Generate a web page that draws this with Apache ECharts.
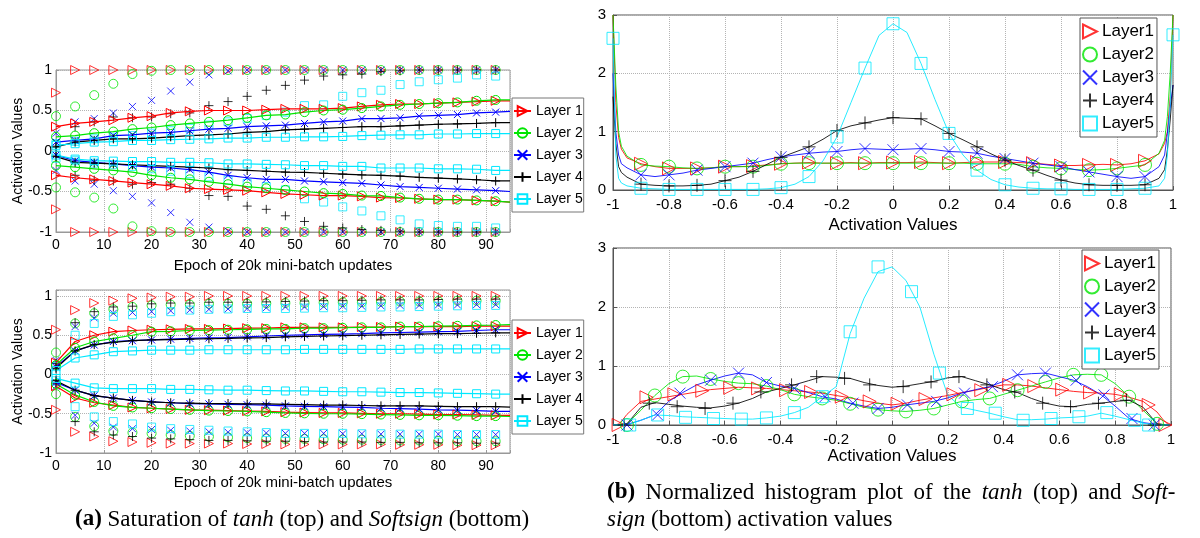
<!DOCTYPE html>
<html>
<head>
<meta charset="utf-8">
<script src="https://cdn.jsdelivr.net/npm/echarts@6/dist/echarts.min.js"></script>
<style>
  html, body { margin: 0; padding: 0; background: #fff; }
  #chart { width: 1200px; height: 538px; }
</style>
</head>
<body>
<div id="chart"></div>
<script>
// ---- (a) saturation plots: x = epoch of 20k mini-batch updates ----
const epochs = [0, 4, 8, 12, 16, 20, 24, 28, 32, 36, 40, 44, 48, 52, 56, 60, 64, 68, 72, 76, 80, 84, 88, 92];
const lineEnd = 95;
const lineEpochs = epochs.concat([lineEnd]);

// tanh, std lines (upper / lower), one value per lineEpochs
const tanhUp1 = [0.30,0.34,0.36,0.38,0.41,0.43,0.47,0.49,0.50,0.50,0.50,0.51,0.52,0.52,0.52,0.53,0.55,0.57,0.58,0.58,0.59,0.60,0.61,0.62,0.62];
const tanhUp2 = [0.175,0.19,0.22,0.24,0.27,0.29,0.32,0.34,0.36,0.38,0.41,0.44,0.45,0.48,0.50,0.51,0.53,0.55,0.57,0.58,0.59,0.60,0.62,0.63,0.63];
const tanhUp3 = [0.11,0.13,0.15,0.19,0.20,0.22,0.23,0.25,0.27,0.28,0.30,0.31,0.32,0.34,0.36,0.37,0.40,0.40,0.41,0.43,0.44,0.45,0.47,0.48,0.49];
const tanhUp4 = [0.05,0.11,0.13,0.15,0.15,0.16,0.175,0.19,0.20,0.21,0.23,0.24,0.26,0.27,0.28,0.29,0.30,0.30,0.31,0.32,0.33,0.335,0.34,0.35,0.35];
const tanhUp5 = [0.07,0.09,0.11,0.115,0.13,0.13,0.14,0.145,0.15,0.16,0.16,0.17,0.17,0.175,0.175,0.18,0.19,0.195,0.20,0.20,0.21,0.21,0.215,0.215,0.215];
const tanhLow1 = [-0.30,-0.33,-0.35,-0.37,-0.39,-0.41,-0.43,-0.46,-0.47,-0.48,-0.49,-0.51,-0.53,-0.54,-0.55,-0.55,-0.56,-0.575,-0.58,-0.59,-0.60,-0.60,-0.61,-0.62,-0.63];
const tanhLow2 = [-0.18,-0.20,-0.22,-0.24,-0.26,-0.30,-0.33,-0.35,-0.38,-0.41,-0.44,-0.46,-0.48,-0.50,-0.52,-0.53,-0.55,-0.555,-0.575,-0.59,-0.60,-0.60,-0.61,-0.62,-0.63];
const tanhLow3 = [-0.05,-0.12,-0.14,-0.16,-0.18,-0.20,-0.21,-0.23,-0.26,-0.30,-0.33,-0.35,-0.35,-0.37,-0.38,-0.39,-0.40,-0.42,-0.44,-0.45,-0.46,-0.47,-0.48,-0.49,-0.50];
const tanhLow4 = [-0.07,-0.14,-0.15,-0.16,-0.17,-0.18,-0.19,-0.20,-0.21,-0.23,-0.24,-0.25,-0.26,-0.265,-0.275,-0.285,-0.295,-0.30,-0.31,-0.325,-0.335,-0.345,-0.355,-0.37,-0.37];
const tanhLow5 = [-0.05,-0.10,-0.12,-0.125,-0.13,-0.13,-0.14,-0.14,-0.145,-0.16,-0.16,-0.165,-0.17,-0.18,-0.18,-0.19,-0.19,-0.21,-0.21,-0.21,-0.22,-0.22,-0.225,-0.24,-0.24];

// tanh, 98 percentiles (markers alone), one value per epoch
const tanhTop1 = [0.72,1,1,1,1,1,1,1,1,1,1,1,1,1,1,1,1,1,1,1,1,1,1,1];
const tanhTop2 = [0.43,0.55,0.69,0.83,0.95,0.99,1,1,1,1,1,1,1,1,1,1,1,1,1,1,1,1,1,1];
const tanhTop3 = [0.22,0.36,0.40,0.47,0.55,0.625,0.74,0.85,0.94,0.99,1,1,1,1,1,1,1,1,1,1,1,1,1,1];
const tanhTop4 = [0.06,0.30,0.36,0.42,0.41,0.42,0.46,0.47,0.56,0.61,0.675,0.75,0.81,0.875,0.925,0.94,0.95,0.98,0.99,1,1,1,1,1];
const tanhTop5 = [0.09,0.12,0.15,0.17,0.19,0.22,0.25,0.28,0.32,0.36,0.40,0.44,0.48,0.56,0.57,0.675,0.72,0.75,0.82,0.855,0.88,0.90,0.94,0.925];
const tanhBot1 = [-0.72,-1,-1,-1,-1,-1,-1,-1,-1,-1,-1,-1,-1,-1,-1,-1,-1,-1,-1,-1,-1,-1,-1,-1];
const tanhBot2 = [-0.45,-0.51,-0.575,-0.71,-0.93,-0.99,-1,-1,-1,-1,-1,-1,-1,-1,-1,-1,-1,-1,-1,-1,-1,-1,-1,-1];
const tanhBot3 = [-0.24,-0.37,-0.41,-0.49,-0.56,-0.64,-0.76,-0.88,-0.94,-0.99,-1,-1,-1,-1,-1,-1,-1,-1,-1,-1,-1,-1,-1,-1];
const tanhBot4 = [-0.06,-0.30,-0.36,-0.37,-0.41,-0.39,-0.41,-0.46,-0.55,-0.56,-0.68,-0.72,-0.80,-0.87,-0.93,-0.95,-0.97,-0.98,-0.99,-1,-1,-1,-1,-1];
const tanhBot5 = [-0.09,-0.12,-0.15,-0.17,-0.19,-0.22,-0.25,-0.28,-0.32,-0.36,-0.40,-0.44,-0.48,-0.59,-0.63,-0.69,-0.74,-0.80,-0.85,-0.90,-0.92,-0.93,-0.93,-0.95];

// softsign, std lines
const softUp1 = [0.15,0.42,0.50,0.545,0.56,0.57,0.575,0.58,0.58,0.585,0.59,0.59,0.60,0.60,0.60,0.60,0.605,0.605,0.61,0.61,0.61,0.61,0.615,0.615,0.615];
const softUp2 = [0.12,0.34,0.42,0.46,0.50,0.545,0.55,0.56,0.565,0.57,0.575,0.58,0.58,0.59,0.59,0.595,0.60,0.60,0.61,0.61,0.615,0.62,0.625,0.63,0.635];
const softUp3 = [0.10,0.30,0.375,0.42,0.43,0.44,0.45,0.46,0.465,0.47,0.48,0.49,0.50,0.505,0.51,0.515,0.52,0.53,0.535,0.54,0.545,0.55,0.56,0.57,0.57];
const softUp4 = [0.08,0.30,0.38,0.41,0.43,0.44,0.445,0.45,0.455,0.46,0.465,0.47,0.48,0.485,0.49,0.495,0.50,0.505,0.51,0.515,0.52,0.52,0.525,0.53,0.53];
const softUp5 = [0.05,0.21,0.25,0.29,0.30,0.31,0.31,0.31,0.315,0.315,0.315,0.315,0.315,0.32,0.32,0.32,0.32,0.32,0.32,0.325,0.325,0.325,0.325,0.325,0.325];
const softLow1 = [-0.15,-0.30,-0.36,-0.39,-0.42,-0.43,-0.44,-0.45,-0.455,-0.46,-0.465,-0.47,-0.48,-0.485,-0.49,-0.49,-0.495,-0.50,-0.50,-0.505,-0.51,-0.51,-0.515,-0.52,-0.52];
const softLow2 = [-0.12,-0.26,-0.35,-0.40,-0.42,-0.43,-0.44,-0.45,-0.46,-0.465,-0.47,-0.48,-0.49,-0.495,-0.50,-0.50,-0.505,-0.51,-0.515,-0.52,-0.52,-0.525,-0.53,-0.53,-0.535];
const softLow3 = [-0.10,-0.20,-0.27,-0.30,-0.33,-0.35,-0.36,-0.37,-0.375,-0.38,-0.385,-0.39,-0.40,-0.405,-0.41,-0.415,-0.42,-0.43,-0.435,-0.44,-0.45,-0.455,-0.46,-0.47,-0.47];
const softLow4 = [-0.08,-0.20,-0.27,-0.30,-0.33,-0.35,-0.36,-0.365,-0.37,-0.37,-0.375,-0.375,-0.38,-0.385,-0.39,-0.39,-0.395,-0.40,-0.40,-0.40,-0.405,-0.41,-0.41,-0.41,-0.415];
const softLow5 = [-0.05,-0.11,-0.17,-0.18,-0.18,-0.18,-0.19,-0.19,-0.195,-0.20,-0.20,-0.205,-0.21,-0.21,-0.215,-0.22,-0.22,-0.225,-0.23,-0.23,-0.235,-0.24,-0.245,-0.25,-0.25];

// softsign, 98 percentiles
const softTop1 = [0.57,0.82,0.91,0.94,0.97,0.98,0.99,0.99,1,1,1,1,1,1,1,1,1,1,1,1,1,1,1,1];
const softTop2 = [0.28,0.65,0.78,0.83,0.86,0.88,0.89,0.89,0.90,0.90,0.90,0.905,0.91,0.91,0.915,0.92,0.92,0.925,0.93,0.93,0.935,0.94,0.94,0.94];
const softTop3 = [0.18,0.61,0.72,0.78,0.79,0.80,0.81,0.82,0.83,0.835,0.84,0.85,0.86,0.86,0.865,0.87,0.87,0.875,0.88,0.88,0.885,0.885,0.89,0.89];
const softTop4 = [0.14,0.66,0.80,0.86,0.87,0.90,0.91,0.91,0.92,0.92,0.92,0.925,0.93,0.935,0.94,0.94,0.945,0.95,0.95,0.95,0.955,0.96,0.96,0.96];
const softTop5 = [0.10,0.50,0.65,0.74,0.76,0.78,0.80,0.82,0.83,0.835,0.84,0.84,0.84,0.845,0.85,0.85,0.855,0.86,0.86,0.865,0.87,0.875,0.88,0.88];
const softBot1 = [-0.45,-0.73,-0.79,-0.85,-0.86,-0.87,-0.88,-0.88,-0.88,-0.88,-0.885,-0.885,-0.89,-0.89,-0.89,-0.89,-0.89,-0.89,-0.895,-0.895,-0.895,-0.90,-0.90,-0.90];
const softBot2 = [-0.25,-0.54,-0.66,-0.72,-0.74,-0.75,-0.77,-0.78,-0.79,-0.80,-0.81,-0.815,-0.82,-0.82,-0.825,-0.83,-0.83,-0.835,-0.84,-0.84,-0.845,-0.85,-0.85,-0.85];
const softBot3 = [-0.15,-0.52,-0.62,-0.67,-0.69,-0.70,-0.71,-0.72,-0.73,-0.735,-0.74,-0.745,-0.75,-0.75,-0.75,-0.755,-0.755,-0.76,-0.76,-0.76,-0.76,-0.765,-0.765,-0.765];
const softBot4 = [-0.12,-0.60,-0.73,-0.77,-0.79,-0.81,-0.82,-0.83,-0.84,-0.84,-0.845,-0.85,-0.85,-0.855,-0.86,-0.86,-0.86,-0.865,-0.865,-0.87,-0.87,-0.87,-0.875,-0.875];
const softBot5 = [-0.08,-0.41,-0.54,-0.60,-0.63,-0.67,-0.69,-0.70,-0.71,-0.72,-0.73,-0.74,-0.75,-0.75,-0.75,-0.75,-0.755,-0.755,-0.76,-0.76,-0.76,-0.765,-0.765,-0.765];

// ---- (b) normalized histograms: x = activation value ----
const histX = [-1,-0.99,-0.98,-0.97,-0.95,-0.9,-0.85,-0.8,-0.75,-0.7,-0.65,-0.6,-0.55,-0.5,-0.45,-0.4,-0.35,-0.3,-0.25,-0.2,-0.15,-0.1,-0.05,0,
  0.05,0.1,0.15,0.2,0.25,0.3,0.35,0.4,0.45,0.5,0.55,0.6,0.65,0.7,0.75,0.8,0.85,0.9,0.95,0.97,0.98,0.99,1];

const tanhH1 = [3.0,1.5,0.9,0.7,0.55,0.45,0.40,0.37,0.37,0.37,0.38,0.40,0.40,0.41,0.43,0.45,0.46,0.47,0.46,0.46,0.47,0.46,0.47,0.47,
  0.47,0.48,0.47,0.46,0.47,0.48,0.48,0.48,0.47,0.46,0.44,0.42,0.42,0.43,0.44,0.43,0.45,0.50,0.62,0.80,1.0,1.6,3.0];
const tanhH2 = [3.0,1.8,1.0,0.75,0.58,0.43,0.41,0.40,0.38,0.37,0.38,0.40,0.40,0.40,0.42,0.45,0.46,0.46,0.46,0.46,0.46,0.46,0.46,0.46,
  0.46,0.46,0.46,0.46,0.46,0.45,0.45,0.45,0.44,0.40,0.38,0.37,0.35,0.34,0.35,0.37,0.40,0.43,0.63,0.85,1.26,2.0,3.0];
const tanhH3 = [2.0,1.0,0.6,0.45,0.38,0.26,0.23,0.26,0.29,0.34,0.37,0.40,0.43,0.46,0.52,0.57,0.60,0.63,0.65,0.66,0.69,0.71,0.70,0.69,
  0.70,0.71,0.69,0.66,0.65,0.63,0.58,0.54,0.50,0.46,0.43,0.40,0.35,0.31,0.27,0.23,0.20,0.23,0.40,0.60,0.97,1.4,1.8];
const tanhH4 = [1.6,0.8,0.4,0.3,0.22,0.10,0.08,0.07,0.07,0.08,0.10,0.16,0.22,0.32,0.44,0.56,0.65,0.74,0.87,1.02,1.10,1.15,1.20,1.24,
  1.23,1.22,1.10,0.97,0.86,0.74,0.62,0.51,0.42,0.34,0.25,0.17,0.12,0.09,0.08,0.08,0.08,0.09,0.20,0.35,0.69,1.2,1.8];
const tanhH5 = [2.6,0.6,0.2,0.12,0.07,0.03,0.02,0.01,0.01,0.01,0.01,0.01,0.01,0.01,0.02,0.04,0.10,0.23,0.5,0.91,1.5,2.09,2.65,2.85,
  2.7,2.17,1.55,0.97,0.6,0.34,0.18,0.09,0.05,0.03,0.02,0.02,0.01,0.01,0.01,0.01,0.02,0.03,0.07,0.2,0.6,1.5,2.66];
const tanhMarkX = [-0.9,-0.8,-0.7,-0.6,-0.5,-0.4,-0.3,-0.2,-0.1,0,0.1,0.2,0.3,0.4,0.5,0.6,0.7,0.8,0.9];
const tanhMarkX5 = [-1,-0.9,-0.8,-0.7,-0.6,-0.5,-0.4,-0.3,-0.2,-0.1,0,0.1,0.2,0.3,0.4,0.5,0.6,0.7,0.8,0.9,1];

const ssH1 = [0,0,0.02,0.06,0.18,0.40,0.44,0.48,0.52,0.56,0.60,0.62,0.64,0.63,0.62,0.60,0.58,0.56,0.54,0.50,0.46,0.41,0.37,0.34,
  0.37,0.42,0.46,0.50,0.55,0.59,0.64,0.68,0.68,0.66,0.63,0.60,0.57,0.55,0.54,0.52,0.47,0.40,0.22,0.10,0.05,0.01,0];
const ssH2 = [0,0,0,0.01,0.02,0.25,0.50,0.70,0.82,0.83,0.78,0.74,0.71,0.70,0.66,0.60,0.52,0.48,0.45,0.42,0.36,0.30,0.26,0.24,
  0.23,0.25,0.28,0.34,0.40,0.43,0.45,0.52,0.59,0.66,0.73,0.80,0.85,0.86,0.85,0.70,0.48,0.25,0.02,0.01,0,0,0];
const ssH3 = [0,0,0,0,0.01,0.08,0.17,0.40,0.55,0.68,0.76,0.83,0.88,0.85,0.72,0.66,0.62,0.55,0.48,0.44,0.37,0.32,0.28,0.30,
  0.34,0.37,0.40,0.46,0.54,0.60,0.65,0.74,0.85,0.87,0.88,0.82,0.76,0.65,0.51,0.32,0.11,0.04,0.01,0,0,0,0];
const ssH4 = [0,0,0,0.01,0.02,0.30,0.38,0.35,0.32,0.30,0.29,0.32,0.37,0.45,0.56,0.62,0.68,0.75,0.82,0.81,0.79,0.72,0.67,0.64,
  0.66,0.70,0.74,0.80,0.82,0.75,0.68,0.60,0.55,0.45,0.37,0.32,0.31,0.35,0.37,0.40,0.42,0.30,0.02,0.01,0,0,0];
const ssH5 = [0,0,0,0,0,0.08,0.17,0.16,0.14,0.13,0.12,0.11,0.10,0.10,0.12,0.15,0.21,0.30,0.48,0.65,1.55,2.15,2.60,2.68,
  2.45,2.00,1.20,0.50,0.30,0.25,0.20,0.14,0.09,0.09,0.10,0.12,0.13,0.15,0.20,0.15,0.09,0.03,0,0,0,0,0];

// softsign histogram marker positions and heights
const ssMkX1 = [-0.98,-0.88,-0.78,-0.68,-0.58,-0.48,-0.38,-0.29,-0.18,-0.08,0.02,0.12,0.22,0.32,0.42,0.51,0.61,0.71,0.82,0.92,0.98];
const ssMkY1 = [0,0.47,0.52,0.58,0.63,0.62,0.59,0.56,0.48,0.40,0.36,0.44,0.52,0.59,0.68,0.66,0.60,0.55,0.52,0.34,0];
const ssMkX2 = [-0.95,-0.85,-0.75,-0.65,-0.55,-0.45,-0.35,-0.25,-0.15,-0.05,0.05,0.15,0.25,0.35,0.45,0.55,0.65,0.75,0.85,0.95];
const ssMkY2 = [0,0.50,0.82,0.78,0.71,0.66,0.52,0.45,0.36,0.26,0.23,0.28,0.40,0.45,0.59,0.73,0.85,0.85,0.48,0.02];
const ssMkX3 = [-0.95,-0.84,-0.76,-0.65,-0.55,-0.45,-0.35,-0.24,-0.14,-0.05,0.055,0.16,0.26,0.36,0.45,0.55,0.66,0.76,0.86,0.94];
const ssMkY3 = [0,0.17,0.54,0.76,0.88,0.72,0.62,0.48,0.37,0.28,0.34,0.40,0.54,0.65,0.85,0.88,0.76,0.51,0.11,0];
const ssMkX4 = [-0.96,-0.87,-0.77,-0.67,-0.57,-0.47,-0.36,-0.27,-0.17,-0.08,0.04,0.14,0.24,0.34,0.44,0.54,0.64,0.74,0.84,0.94];
const ssMkY4 = [0,0.37,0.31,0.28,0.37,0.56,0.68,0.82,0.79,0.68,0.65,0.73,0.82,0.68,0.56,0.37,0.31,0.37,0.42,0];
const ssMkX5 = [-0.94,-0.84,-0.74,-0.64,-0.54,-0.45,-0.35,-0.25,-0.15,-0.05,0.07,0.17,0.27,0.37,0.47,0.57,0.67,0.77,0.87,0.92];
const ssMkY5 = [0,0.17,0.13,0.11,0.10,0.12,0.21,0.48,1.58,2.68,2.26,0.88,0.28,0.20,0.08,0.11,0.14,0.21,0.08,0];

const namesA = ['Layer 1', 'Layer 2', 'Layer 3', 'Layer 4', 'Layer 5'];
const namesB = ['Layer1', 'Layer2', 'Layer3', 'Layer4', 'Layer5'];

// ---- styling ----
const colors = ['#ff0000', '#00e600', '#0000ff', '#000000', '#00e8ff'];
const symbols = [
  'path://M0,0L10,5L0,10Z',          // right triangle
  'circle',
  'path://M0,0L10,10M10,0L0,10',     // x
  'path://M5,0L5,10M0,5L10,5',       // +
  'rect'
];
const sizesA = [9, 9, 7, 9, 8];
const sizesB = [13, 13, 11, 13, 12];
const sans = '"Liberation Sans", Arial, sans-serif';
const serif = '"Liberation Serif", "DejaVu Serif", serif';

const chart = echarts.init(document.getElementById('chart'));

function hollow(k) {
  return { color: 'rgba(0,0,0,0)', borderColor: colors[k], borderWidth: 1 };
}

function satSeries(gi, ups, lows, tops, bots) {
  const out = [];
  for (let k = 0; k < 5; k++) {
    const base = {
      name: namesA[k], xAxisIndex: gi, yAxisIndex: gi,
      symbol: symbols[k], symbolSize: sizesA[k], itemStyle: hollow(k), silent: true
    };
    const lineData = v => lineEpochs.map((e, i) =>
      e === lineEnd ? { value: [e, v[i]], symbol: 'none' } : [e, v[i]]);
    out.push(Object.assign({}, base, { type: 'line', data: lineData(ups[k]), showAllSymbol: true,
      lineStyle: { color: colors[k], width: 1.2 } }));
    out.push(Object.assign({}, base, { type: 'line', data: lineData(lows[k]), showAllSymbol: true,
      lineStyle: { color: colors[k], width: 1.2 } }));
    out.push(Object.assign({}, base, { type: 'scatter', clip: false, data: epochs.map((e, i) => [e, tops[k][i]]) }));
    out.push(Object.assign({}, base, { type: 'scatter', clip: false, data: epochs.map((e, i) => [e, bots[k][i]]) }));
  }
  return out;
}

function histSeries(gi, curves, marks) {
  const out = [];
  // markers first so the legend takes its icon from them
  for (let k = 0; k < 5; k++) {
    out.push({
      type: 'scatter', name: namesB[k], xAxisIndex: gi, yAxisIndex: gi, clip: false, silent: true, z: 3,
      symbol: symbols[k], symbolSize: sizesB[k], itemStyle: hollow(k), data: marks[k]
    });
  }
  for (let k = 0; k < 5; k++) {
    out.push({
      type: 'line', name: namesB[k], xAxisIndex: gi, yAxisIndex: gi, silent: true, z: 2,
      symbol: 'none', showSymbol: false, itemStyle: { color: colors[k] },
      lineStyle: { color: colors[k], width: 1, opacity: 0.85 },
      data: histX.map((x, i) => [x, curves[k][i]])
    });
  }
  return out;
}

const tanhCurves = [tanhH1, tanhH2, tanhH3, tanhH4, tanhH5];
const tanhMarks = tanhCurves.map((c, k) =>
  (k === 4 ? tanhMarkX5 : tanhMarkX).map(x => [x, c[histX.indexOf(x)]]));
const ssCurves = [ssH1, ssH2, ssH3, ssH4, ssH5];
const ssMkX = [ssMkX1, ssMkX2, ssMkX3, ssMkX4, ssMkX5];
const ssMkY = [ssMkY1, ssMkY2, ssMkY3, ssMkY4, ssMkY5];
const ssMarks = ssMkX.map((xs, k) => xs.map((x, i) => [x, ssMkY[k][i]]));

function leftX(gi, gap) {
  return {
    gridIndex: gi, type: 'value', min: 0, max: 95, interval: 10,
    name: 'Epoch of 20k mini-batch updates', nameLocation: 'middle', nameGap: gap,
    nameTextStyle: { fontSize: 15, color: '#000', fontFamily: sans },
    axisLine: { show: true, onZero: false, lineStyle: { color: '#999' } },
    axisTick: { show: true, inside: true, length: 3, lineStyle: { color: '#999' } },
    axisLabel: { fontSize: 14, color: '#000', margin: 6, fontFamily: sans,
      formatter: v => (v % 10 === 0 ? String(v) : '') },
    splitLine: { show: true, lineStyle: { type: 'dotted', color: '#b4b4b4' } }
  };
}
function leftY(gi, max) {
  return {
    gridIndex: gi, type: 'value', min: -1, max: max, interval: 0.5,
    name: 'Activation Values', nameLocation: 'middle', nameGap: 31, nameMoveOverlap: false,
    nameTextStyle: { fontSize: 14, color: '#000', fontFamily: sans },
    axisLine: { show: true, onZero: false, lineStyle: { color: '#999' } },
    axisTick: { show: true, inside: true, length: 3, lineStyle: { color: '#999' } },
    axisLabel: { fontSize: 14, color: '#000', margin: 4, fontFamily: sans,
      formatter: v => (Math.abs(v * 2 - Math.round(v * 2)) < 1e-6 ? String(v) : '') },
    splitLine: { show: true, lineStyle: { type: 'dotted', color: '#b4b4b4' } }
  };
}
function rightX(gi, gap) {
  return {
    gridIndex: gi, type: 'value', min: -1, max: 1, interval: 0.2,
    name: 'Activation Values', nameLocation: 'middle', nameGap: gap,
    nameTextStyle: { fontSize: 17, color: '#000', fontFamily: sans },
    axisLine: { show: true, onZero: false, lineStyle: { color: '#555' } },
    axisTick: { show: true, inside: true, length: 4, lineStyle: { color: '#555' } },
    axisLabel: { fontSize: 15, color: '#000', margin: 7, fontFamily: sans },
    splitLine: { show: true, lineStyle: { type: 'dotted', color: '#b4b4b4' } }
  };
}
function rightY(gi) {
  return {
    gridIndex: gi, type: 'value', min: 0, max: 3, interval: 1,
    axisLine: { show: true, onZero: false, lineStyle: { color: '#555' } },
    axisTick: { show: true, inside: true, length: 4, lineStyle: { color: '#555' } },
    axisLabel: { fontSize: 15, color: '#000', margin: 7, fontFamily: sans },
    splitLine: { show: true, lineStyle: { type: 'dotted', color: '#b4b4b4' } }
  };
}

function legendA(top) {
  return {
    orient: 'vertical', left: 512, top: top, data: namesA, selectedMode: false,
    itemWidth: 17, itemHeight: 12, itemGap: 6, padding: [5, 1, 5, 1],
    textStyle: { fontSize: 14, lineHeight: 16, color: '#000', fontFamily: sans },
    borderColor: '#777', borderWidth: 1, borderRadius: 0, backgroundColor: '#fff'
  };
}
function legendB(left, top) {
  return {
    orient: 'vertical', left: left, top: top, data: namesB, selectedMode: false,
    itemWidth: 14, itemHeight: 14, itemGap: 4, padding: [4, 3, 4, 2],
    textStyle: { fontSize: 17, lineHeight: 19, color: '#000', fontFamily: sans },
    borderColor: '#555', borderWidth: 1, borderRadius: 0, backgroundColor: '#fff'
  };
}

// caption text; the first line of (b) is justified in the paper, so its spaces are widened
const capSize = 23;
const capRich = {
  b: { fontWeight: 'bold', fontSize: capSize, fontFamily: serif, fill: '#000' },
  i: { fontStyle: 'italic', fontSize: capSize, fontFamily: serif, fill: '#000' },
  s: { width: 10.5, fontSize: capSize, fontFamily: serif }
};
const capA = '{b|(a)} Saturation of {i|tanh} (top) and {i|Softsign} (bottom)';
const capB1 = ['{b|(b)}', 'Normalized', 'histogram', 'plot', 'of', 'the', '{i|tanh}', '(top)', 'and', '{i|Soft-}'].join('{s| }');
const capB2 = '{i|sign} (bottom) activation values';

const option = {
  animation: false,
  backgroundColor: '#fff',
  textStyle: { fontFamily: sans },
  grid: [
    { left: 56, top: 70, width: 454, height: 162, show: true, borderColor: '#999', borderWidth: 1, outerBoundsMode: 'none' },
    { left: 56, top: 290, width: 454, height: 163, show: true, borderColor: '#999', borderWidth: 1, outerBoundsMode: 'none' },
    { left: 613, top: 15, width: 560, height: 175, show: true, borderColor: '#555', borderWidth: 1, outerBoundsMode: 'none' },
    { left: 613, top: 248, width: 558, height: 177, show: true, borderColor: '#555', borderWidth: 1, outerBoundsMode: 'none' }
  ],
  xAxis: [leftX(0, 26), leftX(1, 22), rightX(2, 27), rightX(3, 23)],
  yAxis: [leftY(0, 1), leftY(1, 1.076), rightY(2), rightY(3)],
  legend: [legendA(98), legendA(320), legendB(1080, 18), legendB(1082, 250)],
  series: [].concat(
    histSeries(2, tanhCurves, tanhMarks),
    histSeries(3, ssCurves, ssMarks),
    satSeries(0, [tanhUp1, tanhUp2, tanhUp3, tanhUp4, tanhUp5], [tanhLow1, tanhLow2, tanhLow3, tanhLow4, tanhLow5],
      [tanhTop1, tanhTop2, tanhTop3, tanhTop4, tanhTop5], [tanhBot1, tanhBot2, tanhBot3, tanhBot4, tanhBot5]),
    satSeries(1, [softUp1, softUp2, softUp3, softUp4, softUp5], [softLow1, softLow2, softLow3, softLow4, softLow5],
      [softTop1, softTop2, softTop3, softTop4, softTop5], [softBot1, softBot2, softBot3, softBot4, softBot5])
  ),
  graphic: [
    { type: 'text', left: 75, top: 508, silent: true,
      style: { text: capA, rich: capRich, fontSize: capSize, fontFamily: serif, fill: '#000' } },
    { type: 'text', left: 607, top: 481, silent: true,
      style: { text: capB1, rich: capRich, fontSize: capSize, fontFamily: serif, fill: '#000' } },
    { type: 'text', left: 607, top: 508, silent: true,
      style: { text: capB2, rich: capRich, fontSize: capSize, fontFamily: serif, fill: '#000' } }
  ]
};

chart.setOption(option);
window.addEventListener('resize', () => chart.resize());
</script>
</body>
</html>
